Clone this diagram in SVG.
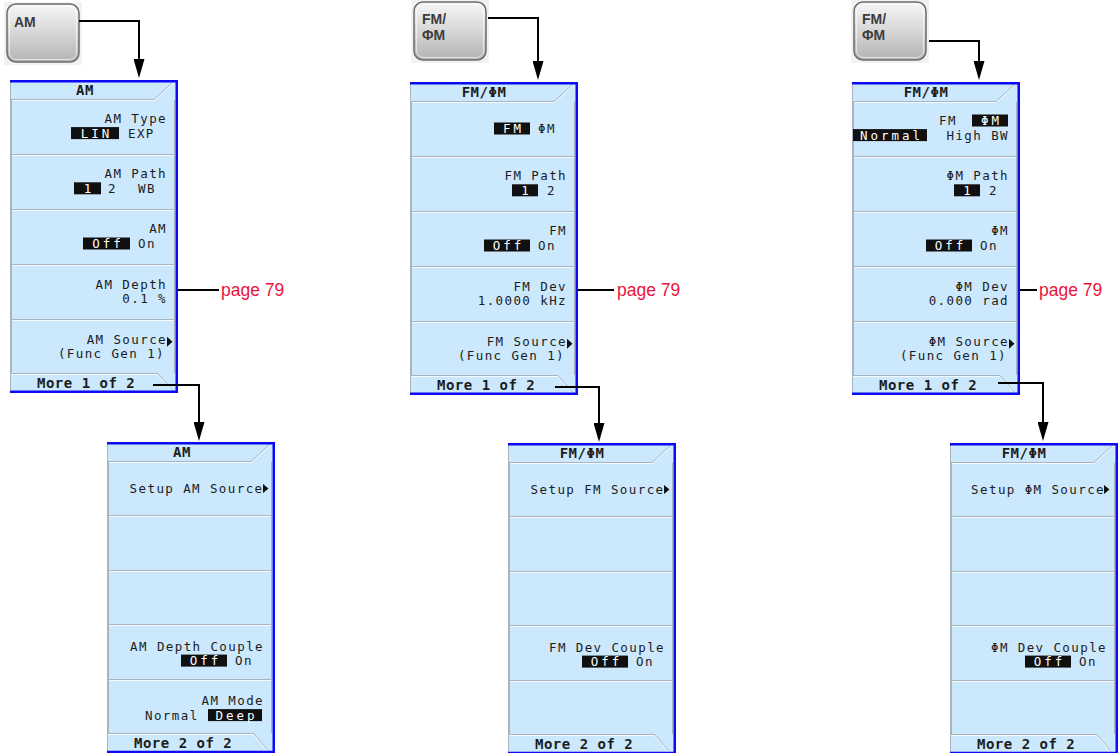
<svg xmlns="http://www.w3.org/2000/svg" width="1118" height="753" viewBox="0 0 1118 753">
<style>
.bg{fill:#CCE8FC}
.blue{fill:none;stroke:#0A0AF5;stroke-width:2.5}
.edge{stroke:#A9B5BE;stroke-width:1}
.sep{stroke:#A9B5BE;stroke-width:1}
.hl{stroke:#F4FAFF;stroke-width:1;fill:none}
.bev{fill:none;stroke:#A9B5BE;stroke-width:1}
.t{font-family:"DejaVu Sans Mono",monospace;font-size:12.5px;letter-spacing:1.4px;fill:#1c1c1c}
.tb{font-family:"DejaVu Sans Mono",monospace;font-size:14px;letter-spacing:0.5px;font-weight:bold;fill:#1c1c1c}
.e{text-anchor:end}
.m{text-anchor:middle}
.inv{fill:#101010}
.it{font-family:"DejaVu Sans Mono",monospace;font-size:12.5px;fill:#ffffff;text-anchor:middle;letter-spacing:3px}
.arr{fill:#101010}
.conn{fill:none;stroke:#000;stroke-width:2}
.pg{font-family:"Liberation Sans",Arial,sans-serif;font-size:17.5px;fill:#EB143C}
.btn{fill:url(#bg1);stroke:#6c6c6c;stroke-width:1.5}
.btnhl{fill:none;stroke:#ffffff;stroke-opacity:0.6;stroke-width:1}
.btt{font-family:"Liberation Sans",Arial,sans-serif;font-size:14px;font-weight:bold;fill:#3c3c3c}
</style>
<defs>
<linearGradient id="bg1" x1="0" y1="0" x2="0" y2="1">
<stop offset="0" stop-color="#f6f6f6"/>
<stop offset="0.45" stop-color="#dadada"/>
<stop offset="1" stop-color="#b3b3b3"/>
</linearGradient>
<marker id="ah" markerUnits="userSpaceOnUse" markerWidth="19" markerHeight="11" viewBox="0 0 19 11" refX="15" refY="5.5" orient="auto">
<path d="M0,0 L19,5.5 L0,11 z" fill="#000"/>
</marker>
<g id="frameA">
<rect class="bg" x="0" y="0" width="168" height="313"/>
<path class="bev" d="M1,19.5 H144 L163,2"/>
<path class="hl" d="M1,20.5 H144.5 L164,2.5"/>
<line class="sep" x1="1" y1="74.5" x2="165" y2="74.5"/><line class="hl" x1="1" y1="75.5" x2="165" y2="75.5"/>
<line class="sep" x1="1" y1="129.5" x2="165" y2="129.5"/><line class="hl" x1="1" y1="130.5" x2="165" y2="130.5"/>
<line class="sep" x1="1" y1="184.5" x2="165" y2="184.5"/><line class="hl" x1="1" y1="185.5" x2="165" y2="185.5"/>
<line class="sep" x1="1" y1="239.5" x2="165" y2="239.5"/><line class="hl" x1="1" y1="240.5" x2="165" y2="240.5"/>
<line class="sep" x1="1.5" y1="20" x2="1.5" y2="293"/>
<line class="sep" x1="164.5" y1="20" x2="164.5" y2="293"/>
<path class="bev" d="M1,293.5 H148 L163,311"/>
<path class="hl" d="M1,294.5 H147.5 L162,311"/>
<line class="edge" x1="0.5" y1="0" x2="0.5" y2="313"/>
<path class="blue" d="M0,1.25 H166.75 V311.75 H0"/>
</g>
<g id="frameB">
<rect class="bg" x="0" y="0" width="168" height="311"/>
<path class="bev" d="M1,19.5 H144 L163,2"/>
<path class="hl" d="M1,20.5 H144.5 L164,2.5"/>
<line class="sep" x1="1" y1="73.5" x2="165" y2="73.5"/><line class="hl" x1="1" y1="74.5" x2="165" y2="74.5"/>
<line class="sep" x1="1" y1="128.5" x2="165" y2="128.5"/><line class="hl" x1="1" y1="129.5" x2="165" y2="129.5"/>
<line class="sep" x1="1" y1="182.5" x2="165" y2="182.5"/><line class="hl" x1="1" y1="183.5" x2="165" y2="183.5"/>
<line class="sep" x1="1" y1="237.5" x2="165" y2="237.5"/><line class="hl" x1="1" y1="238.5" x2="165" y2="238.5"/>
<line class="sep" x1="1.5" y1="20" x2="1.5" y2="291"/>
<line class="sep" x1="164.5" y1="20" x2="164.5" y2="291"/>
<path class="bev" d="M1,291.5 H147 L163,311"/>
<path class="hl" d="M1,292.5 H146.5 L162,311"/>
<line class="edge" x1="0.5" y1="0" x2="0.5" y2="311"/>
<path class="blue" d="M0,1.25 H166.75 V310 H0"/>
</g>
<g id="btnbase">
<rect x="-3" y="-2" width="78" height="63" fill="#f2f2f2"/>
<rect class="btn" x="0" y="0" width="72" height="58" rx="9"/>
<rect class="btnhl" x="2.5" y="2.5" width="67" height="53" rx="7"/>
</g>
</defs>
<rect width="1118" height="753" fill="#ffffff"/>

<!-- Buttons -->
<g id="btn-am" transform="translate(7,4)">
<use href="#btnbase"/>
<text class="btt" x="7" y="23">AM</text>
</g>
<g id="btn-fm" transform="translate(414,2)">
<use href="#btnbase"/>
<text class="btt" x="8" y="22">FM/</text>
<text class="btt" x="8" y="38">ΦM</text>
</g>
<g id="btn-pm" transform="translate(854,2)">
<use href="#btnbase"/>
<text class="btt" x="8" y="22">FM/</text>
<text class="btt" x="8" y="38">ΦM</text>
</g>

<!-- AM menu 1 -->
<g id="am-menu1" transform="translate(10,80)">
<use href="#frameA"/>
<text class="tb m" x="75" y="15">AM</text>
<text class="t e" x="157" y="43">AM Type</text>
<rect class="inv" x="61" y="47.1" width="48" height="12"/>
<text class="it" x="86.5" y="57.6">LIN</text>
<text class="t" x="118" y="57.6">EXP</text>
<text class="t e" x="157" y="98.2">AM Path</text>
<rect class="inv" x="64" y="102.3" width="27" height="12"/>
<text class="it" x="79" y="112.8">1</text>
<text class="t" x="98" y="112.8">2</text>
<text class="t" x="128" y="112.8">WB</text>
<text class="t e" x="157" y="153.4">AM</text>
<rect class="inv" x="73" y="157.5" width="47" height="12"/>
<text class="it" x="98" y="168">Off</text>
<text class="t" x="128" y="168">On</text>
<text class="t e" x="157" y="208.6">AM Depth</text>
<text class="t e" x="157" y="223.2">0.1 %</text>
<text class="t e" x="157" y="263.8">AM Source</text>
<path class="arr" d="M157,256.8 L162.5,261.8 L157,266.8 z"/>
<text class="t e" x="155" y="278.4">(Func Gen 1)</text>
<text class="tb" x="27" y="308">More 1 of 2</text>
</g>

<!-- AM menu 2 -->
<g id="am-menu2" transform="translate(107,442)">
<use href="#frameB"/>
<text class="tb m" x="75" y="15">AM</text>
<text class="t e" x="156.5" y="51">Setup AM Source</text>
<path class="arr" d="M156,42 L161.5,46.5 L156,51 z"/>
<text class="t e" x="157" y="208.5">AM Depth Couple</text>
<rect class="inv" x="74" y="212.6" width="46" height="12"/>
<text class="it" x="98.5" y="223.1">Off</text>
<text class="t" x="128" y="223.1">On</text>
<text class="t e" x="157" y="263">AM Mode</text>
<text class="t" x="38" y="277.6">Normal</text>
<rect class="inv" x="101" y="267.1" width="54" height="12"/>
<text class="it" x="129.5" y="277.6">Deep</text>
<text class="tb" x="27" y="306">More 2 of 2</text>
</g>

<!-- FM menu 1 -->
<g id="fm-menu1" transform="translate(410,82)">
<use href="#frameA"/>
<text class="tb m" x="74" y="15">FM/ΦM</text>
<rect class="inv" x="84" y="40.5" width="36" height="12"/>
<text class="it" x="103.5" y="51">FM</text>
<text class="t" x="128" y="51">ΦM</text>
<text class="t e" x="157" y="98.2">FM Path</text>
<rect class="inv" x="102" y="102.3" width="26" height="12"/>
<text class="it" x="116.5" y="112.8">1</text>
<text class="t" x="137" y="112.8">2</text>
<text class="t e" x="157" y="153.4">FM</text>
<rect class="inv" x="74" y="157.5" width="46" height="12"/>
<text class="it" x="98.5" y="168">Off</text>
<text class="t" x="128" y="168">On</text>
<text class="t e" x="157" y="208.6">FM Dev</text>
<text class="t e" x="157" y="223.2">1.0000 kHz</text>
<text class="t e" x="157" y="263.8">FM Source</text>
<path class="arr" d="M157,256.8 L162.5,261.8 L157,266.8 z"/>
<text class="t e" x="155" y="278.4">(Func Gen 1)</text>
<text class="tb" x="27" y="308">More 1 of 2</text>
</g>

<!-- FM menu 2 -->
<g id="fm-menu2" transform="translate(508,443)">
<use href="#frameB"/>
<text class="tb m" x="74" y="15">FM/ΦM</text>
<text class="t e" x="156.5" y="51">Setup FM Source</text>
<path class="arr" d="M156,42 L161.5,46.5 L156,51 z"/>
<text class="t e" x="157" y="208.5">FM Dev Couple</text>
<rect class="inv" x="74" y="212.6" width="46" height="12"/>
<text class="it" x="98.5" y="223.1">Off</text>
<text class="t" x="128" y="223.1">On</text>
<text class="tb" x="27" y="306">More 2 of 2</text>
</g>

<!-- PhiM menu 1 -->
<g id="pm-menu1" transform="translate(852,82)">
<use href="#frameA"/>
<text class="tb m" x="74" y="15">FM/ΦM</text>
<text class="t" x="87" y="43">FM</text>
<rect class="inv" x="120" y="32.5" width="36" height="12"/>
<text class="it" x="139.5" y="43">ΦM</text>
<rect class="inv" x="1" y="47.1" width="74" height="12"/>
<text class="it" x="39.5" y="57.6">Normal</text>
<text class="t e" x="157" y="57.6">High BW</text>
<text class="t e" x="157" y="98.2">ΦM Path</text>
<rect class="inv" x="102" y="102.3" width="26" height="12"/>
<text class="it" x="116.5" y="112.8">1</text>
<text class="t" x="137" y="112.8">2</text>
<text class="t e" x="157" y="153.4">ΦM</text>
<rect class="inv" x="74" y="157.5" width="46" height="12"/>
<text class="it" x="98.5" y="168">Off</text>
<text class="t" x="128" y="168">On</text>
<text class="t e" x="157" y="208.6">ΦM Dev</text>
<text class="t e" x="157" y="223.2">0.000 rad</text>
<text class="t e" x="157" y="263.8">ΦM Source</text>
<path class="arr" d="M157,256.8 L162.5,261.8 L157,266.8 z"/>
<text class="t e" x="155" y="278.4">(Func Gen 1)</text>
<text class="tb" x="27" y="308">More 1 of 2</text>
</g>

<!-- PhiM menu 2 -->
<g id="pm-menu2" transform="translate(950,443)">
<use href="#frameB"/>
<text class="tb m" x="74" y="15">FM/ΦM</text>
<text class="t e" x="155" y="51">Setup ΦM Source</text>
<path class="arr" d="M154,42 L159.5,46.5 L154,51 z"/>
<text class="t e" x="157" y="208.5">ΦM Dev Couple</text>
<rect class="inv" x="75" y="212.6" width="46" height="12"/>
<text class="it" x="99.5" y="223.1">Off</text>
<text class="t" x="129" y="223.1">On</text>
<text class="tb" x="27" y="306">More 2 of 2</text>
</g>

<!-- Page references -->
<g id="page-refs">
<text class="pg" x="221" y="296">page 79</text>
<text class="pg" x="617" y="296">page 79</text>
<text class="pg" x="1039" y="296">page 79</text>
</g>

<!-- Connectors -->
<g id="connectors">
<path class="conn" d="M79,21 H139 V74" marker-end="url(#ah)"/>
<path class="conn" d="M153,385 H199 V437" marker-end="url(#ah)"/>
<path class="conn" d="M488,18 H538 V76" marker-end="url(#ah)"/>
<path class="conn" d="M555,387 H599 V438" marker-end="url(#ah)"/>
<path class="conn" d="M929,41 H979 V76" marker-end="url(#ah)"/>
<path class="conn" d="M998,383 H1043 V437" marker-end="url(#ah)"/>
<path class="conn" d="M178,290 H219"/>
<path class="conn" d="M578,290 H614"/>
<path class="conn" d="M1020,290 H1037"/>
</g>
</svg>
